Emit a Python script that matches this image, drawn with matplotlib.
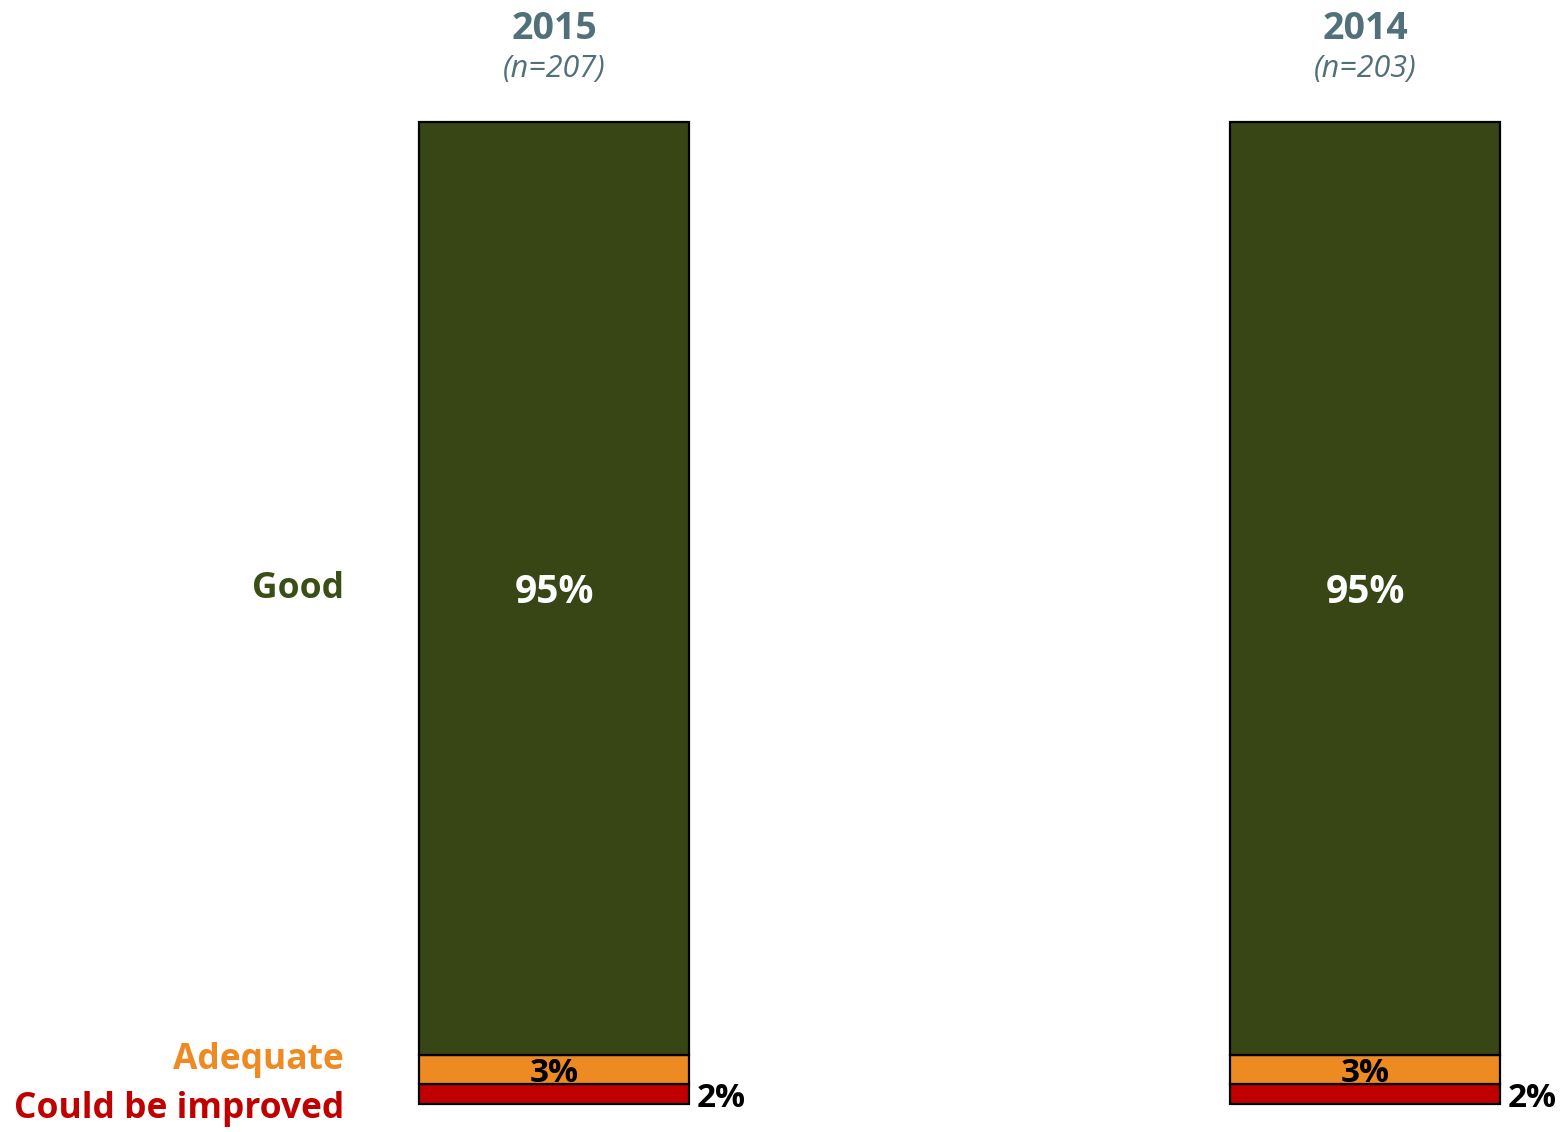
import matplotlib
matplotlib.use("Agg")
import matplotlib.pyplot as plt

plt.rcParams['font.family'] = ['Open Sans', 'DejaVu Sans']

years = ["2015", "2014"]
sample_sizes = ["(n=207)", "(n=203)"]
categories = ["Could be improved", "Adequate", "Good"]
could_be_improved = [2, 2]
adequate = [3, 3]
good = [95, 95]

seg_colors = ["#C00000", "#EE8A22", "#374614"]
label_colors = ["#C00000", "#EE8A22", "#3A4F16"]
title_color = "#52707A"

fig = plt.figure(figsize=(15.66, 11.32), dpi=100)
ax = fig.add_axes([0, 0, 1, 1])
ax.set_xlim(-0.6831, 1.2478)
ax.set_ylim(-2.851, 112.42)
ax.axis("off")

x = [0, 1]
width = 0.333
series = [could_be_improved, adequate, good]
bottoms = [0, 0]
for vals, col in zip(series, seg_colors):
    ax.bar(x, vals, width=width, bottom=bottoms, color=col,
           edgecolor="black", linewidth=1.6, zorder=2)
    bottoms = [b + v for b, v in zip(bottoms, vals)]

for i in range(len(x)):
    base_adq = could_be_improved[i]
    base_good = base_adq + adequate[i]
    # Good share in the middle of its segment
    ax.text(x[i], base_good + good[i] / 2 - 0.4, f"{good[i]}%", ha="center",
            va="center", color="white", fontsize=28, fontweight="bold")
    # Adequate share sits inside its thin segment
    ax.text(x[i], base_adq + adequate[i] / 2 - 0.4, f"{adequate[i]}%", ha="center",
            va="center", color="black", fontsize=24, fontweight="bold")
    # Could-be-improved share beside the bar
    ax.text(x[i] + width / 2 + 0.01, could_be_improved[i] / 2 - 0.4,
            f"{could_be_improved[i]}%", ha="left", va="center",
            color="black", fontsize=24, fontweight="bold")
    # Column headings
    ax.text(x[i], 110.0 - 0.55, years[i], ha="center", va="center",
            color=title_color, fontsize=27, fontweight="bold")
    ax.text(x[i], 105.35, sample_sizes[i], ha="center", va="center",
            color=title_color, fontsize=22, fontstyle="italic")

# Category labels on the left
label_x = -0.259
label_y = [-0.5, 4.5, 52.4]
for name, yy, col in zip(categories, label_y, label_colors):
    ax.text(label_x, yy, name, ha="right", va="center", color=col,
            fontsize=25.5, fontweight="bold")

fig.savefig("out.png", dpi=100, facecolor="white")
